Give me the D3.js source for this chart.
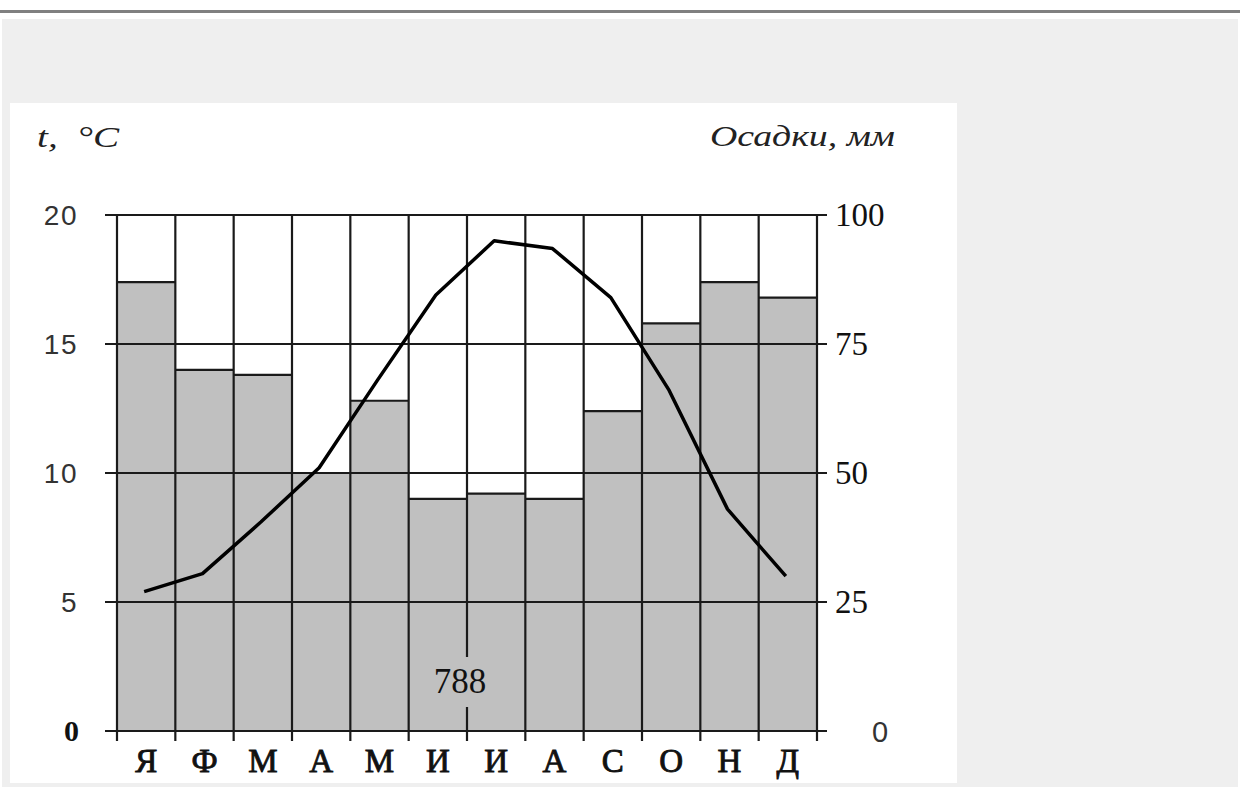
<!DOCTYPE html>
<html>
<head>
<meta charset="utf-8">
<script src="https://cdn.jsdelivr.net/npm/d3@7"></script>
<style>
  html, body { margin: 0; padding: 0; background: #ffffff; }
  svg { display: block; }
</style>
</head>
<body>
<svg id="chart" width="1240" height="787"></svg>
<script>
// ---- data ----
const months = ["Я","Ф","М","А","М","И","И","А","С","О","Н","Д"];
const precipitation = [87, 70, 69, 50, 64, 45, 46, 45, 62, 79, 87, 84];
const temperature = [5.4, 6.1, 8.1, 10.2, 13.6, 16.9, 19.0, 18.7, 16.8, 13.2, 8.6, 6.0];
const tempTicks = [0, 5, 10, 15, 20];
const precTicks = [0, 25, 50, 75, 100];
const totalLabel = "788";
const tempTitle = "t,  °C";
const precTitle = "Осадки, мм";

// ---- layout ----
const svg = d3.select("#chart");
const plot = { left: 117, right: 817, top: 215, bottom: 731 };
const lineColor = "#1a1a1a";

// page decoration
svg.append("rect").attr("x", 0).attr("y", 10).attr("width", 1240).attr("height", 3).attr("fill", "#808080");
svg.append("rect").attr("x", 2).attr("y", 19).attr("width", 1236).attr("height", 768).attr("fill", "#efefef");
svg.append("rect").attr("x", 10).attr("y", 103).attr("width", 947).attr("height", 680).attr("fill", "#ffffff");

const x = d3.scaleBand().domain(d3.range(months.length)).range([plot.left, plot.right]).paddingInner(0).paddingOuter(0);
const yT = d3.scaleLinear().domain([0, 20]).range([plot.bottom, plot.top]);
const yP = d3.scaleLinear().domain([0, 100]).range([plot.bottom, plot.top]);
const bw = x.bandwidth();

// bars
svg.append("g").selectAll("rect").data(precipitation).join("rect")
  .attr("x", (d, i) => x(i))
  .attr("y", d => yP(d))
  .attr("width", bw)
  .attr("height", d => yP(0) - yP(d))
  .attr("fill", "#c0c0c0");
svg.append("g").selectAll("line").data(precipitation).join("line")
  .attr("x1", (d, i) => x(i)).attr("x2", (d, i) => x(i) + bw)
  .attr("y1", d => yP(d)).attr("y2", d => yP(d))
  .attr("stroke", lineColor).attr("stroke-width", 2.2);

// horizontal grid lines with ticks (left 12px, right 10px)
svg.append("g").selectAll("line").data(tempTicks).join("line")
  .attr("x1", plot.left - 12).attr("x2", plot.right + 10)
  .attr("y1", d => yT(d)).attr("y2", d => yT(d))
  .attr("stroke", lineColor).attr("stroke-width", 2.2);

// vertical month boundaries + x ticks
const bounds = d3.range(months.length + 1).map(i => i < months.length ? x(i) : x(months.length - 1) + bw);
svg.append("g").selectAll("line").data(bounds).join("line")
  .attr("x1", d => d).attr("x2", d => d)
  .attr("y1", plot.top).attr("y2", plot.bottom + 10)
  .attr("stroke", lineColor).attr("stroke-width", 2.2);

// temperature line
const line = d3.line()
  .x((d, i) => x(i) + bw / 2 - 2)
  .y(d => yT(d))
  .curve(d3.curveLinear);
svg.append("path").datum(temperature)
  .attr("d", line)
  .attr("fill", "none")
  .attr("stroke", "#000")
  .attr("stroke-width", 3.5)
  .attr("stroke-linejoin", "round");

// total label with gray backing
const labelX = x(6) - 7;
svg.append("rect").attr("x", labelX - 31).attr("y", 657).attr("width", 62).attr("height", 50).attr("fill", "#c0c0c0");
svg.append("text").attr("x", labelX).attr("y", 693)
  .attr("text-anchor", "middle")
  .attr("font-family", "'Liberation Serif', serif")
  .attr("font-size", 35)
  .attr("fill", "#111")
  .text(totalLabel);

// left axis labels
svg.append("g").selectAll("text").data(tempTicks).join("text")
  .attr("x", d => d === 0 ? 79 : 78)
  .attr("y", d => yT(d) + 10)
  .attr("text-anchor", "end")
  .attr("font-family", d => d === 0 ? "'Liberation Serif', serif" : "'Liberation Sans', Arial, sans-serif")
  .attr("font-weight", d => d === 0 ? "bold" : "normal")
  .attr("font-size", d => d === 0 ? 30 : 28)
  .attr("fill", d => d === 0 ? "#111" : "#333")
  .attr("letter-spacing", d => d === 0 ? 0 : 1.5)
  .text(d => d);

// right axis labels
svg.append("g").selectAll("text").data(precTicks).join("text")
  .attr("x", d => d === 0 ? 872 : 835)
  .attr("y", d => yP(d) + 11)
  .attr("text-anchor", "start")
  .attr("font-family", d => d === 0 ? "'Liberation Sans', Arial, sans-serif" : "'Liberation Serif', serif")
  .attr("font-size", d => d === 0 ? 29 : 33)
  .attr("fill", d => d === 0 ? "#333" : "#111")
  .text(d => d);

// month labels
svg.append("g").selectAll("text").data(months).join("text")
  .attr("x", (d, i) => x(i) + bw / 2)
  .attr("y", 772)
  .attr("text-anchor", "middle")
  .attr("font-family", "'Liberation Serif', serif")
  .attr("font-size", 33)
  .attr("fill", "#111")
  .attr("stroke", "#111")
  .attr("stroke-width", 0.9)
  .text(d => d);

// axis titles
svg.append("text").attr("x", 37).attr("y", 147)
  .attr("font-family", "'Liberation Serif', serif")
  .attr("font-style", "italic")
  .attr("font-size", 30)
  .attr("fill", "#222")
  .attr("xml:space", "preserve")
  .style("white-space", "pre")
  .attr("textLength", 82)
  .attr("lengthAdjust", "spacingAndGlyphs")
  .text(tempTitle);
svg.append("text").attr("x", 710).attr("y", 146)
  .attr("font-family", "'Liberation Serif', serif")
  .attr("font-style", "italic")
  .attr("font-size", 30)
  .attr("fill", "#222")
  .attr("textLength", 185)
  .attr("lengthAdjust", "spacingAndGlyphs")
  .text(precTitle);
</script>
</body>
</html>
